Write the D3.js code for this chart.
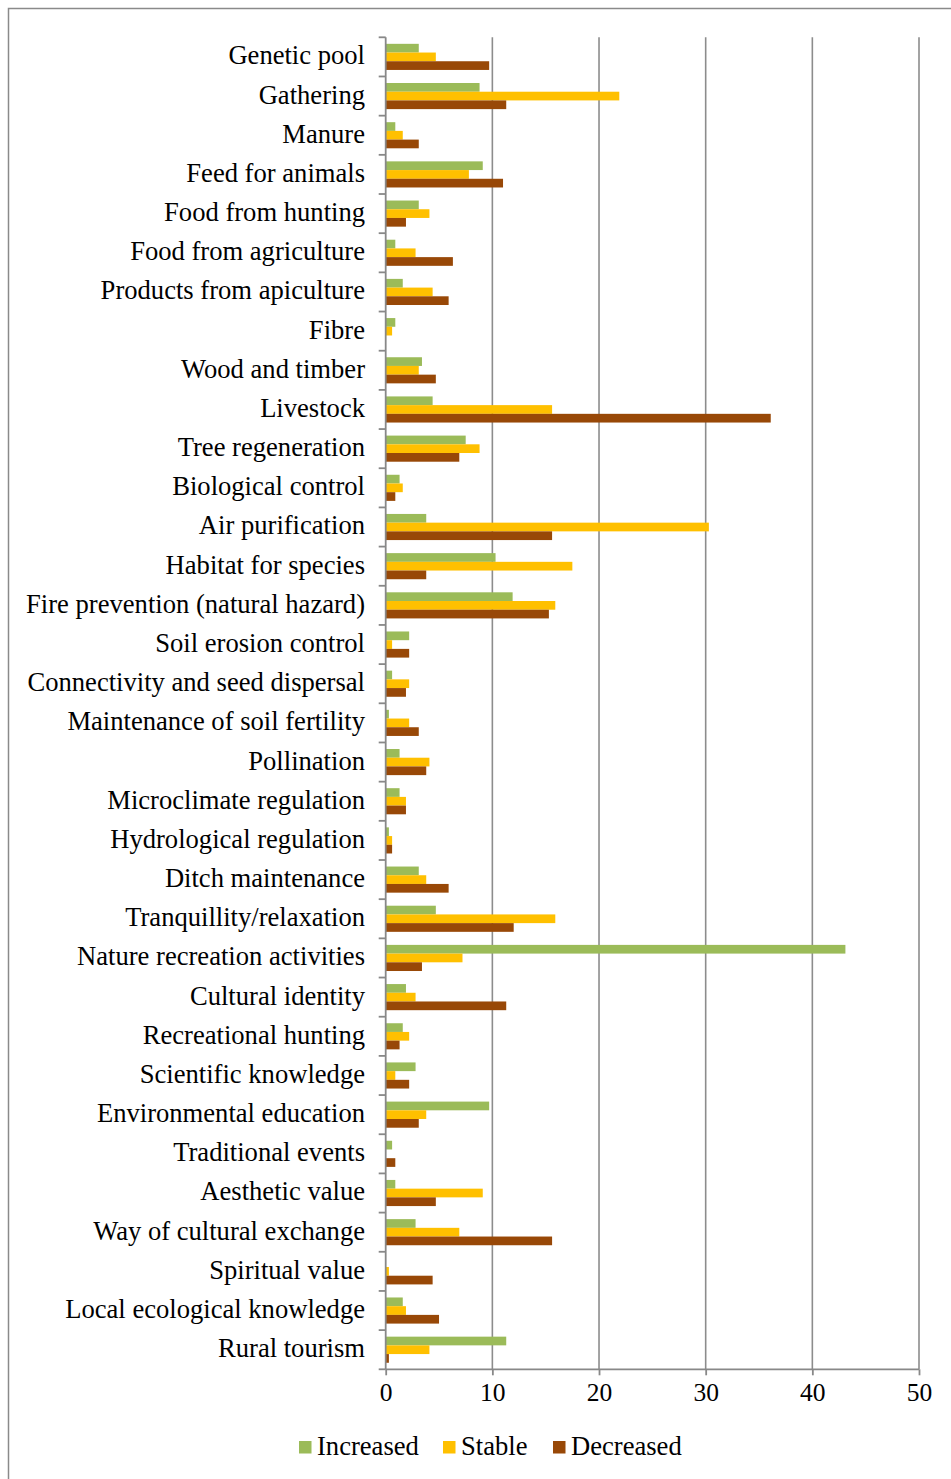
<!DOCTYPE html>
<html>
<head>
<meta charset="utf-8">
<script src="https://cdn.jsdelivr.net/npm/d3@7"></script>
<style>
  html, body { margin: 0; padding: 0; background: #fff; }
  svg { display: block; }
  text { font-family: "Liberation Serif", "Times New Roman", serif; fill: #000; }
</style>
</head>
<body>
<svg id="chart" width="951" height="1479"></svg>
<script>
// Ecosystem services and the share of responses for each trend
const categories = [
  "Genetic pool", "Gathering", "Manure", "Feed for animals", "Food from hunting",
  "Food from agriculture", "Products from apiculture", "Fibre", "Wood and timber",
  "Livestock", "Tree regeneration", "Biological control", "Air purification",
  "Habitat for species", "Fire prevention (natural hazard)", "Soil erosion control",
  "Connectivity and seed dispersal", "Maintenance of soil fertility", "Pollination",
  "Microclimate regulation", "Hydrological regulation", "Ditch maintenance",
  "Tranquillity/relaxation", "Nature recreation activities", "Cultural identity",
  "Recreational hunting", "Scientific knowledge", "Environmental education",
  "Traditional events", "Aesthetic value", "Way of cultural exchange",
  "Spiritual value", "Local ecological knowledge", "Rural tourism"
];

const increased = [
  3.1, 8.8, 0.9, 9.1, 3.1, 0.9, 1.6, 0.9, 3.4, 4.4, 7.5, 1.3, 3.8, 10.3, 11.9,
  2.2, 0.6, 0.3, 1.3, 1.3, 0.3, 3.1, 4.7, 43.1, 1.9, 1.6, 2.8, 9.7, 0.6, 0.9,
  2.8, 0, 1.6, 11.3
];
const stable = [
  4.7, 21.9, 1.6, 7.8, 4.1, 2.8, 4.4, 0.6, 3.1, 15.6, 8.8, 1.6, 30.3, 17.5, 15.9,
  0.6, 2.2, 2.2, 4.1, 1.9, 0.6, 3.8, 15.9, 7.2, 2.8, 2.2, 0.9, 3.8, 0, 9.1,
  6.9, 0.3, 1.9, 4.1
];
const decreased = [
  9.7, 11.3, 3.1, 11.0, 1.9, 6.3, 5.9, 0, 4.7, 36.1, 6.9, 0.9, 15.6, 3.8, 15.3,
  2.2, 1.9, 3.1, 3.8, 1.9, 0.6, 5.9, 12.0, 3.4, 11.3, 1.3, 2.2, 3.1, 0.9, 4.7,
  15.6, 4.4, 5.0, 0.3
];

const seriesNames = ["Increased", "Stable", "Decreased"];
const seriesColors = ["#9BBB59", "#FFC000", "#984807"];
const xTicks = [0, 10, 20, 30, 40, 50];

const seriesValues = [increased, stable, decreased];
const rows = categories.map((c, i) => ({
  category: c,
  values: seriesNames.map((s, k) => ({ key: s, value: seriesValues[k][i] }))
}));

const svg = d3.select("#chart");

// outer chart frame
svg.append("rect")
  .attr("x", 8.5).attr("y", 8.5)
  .attr("width", 1000).attr("height", 1600)
  .attr("fill", "none").attr("stroke", "#8a8a8a").attr("stroke-width", 1.5);

const plot = { left: 385.7, right: 919, top: 37.3, bottom: 1369.3 };

const x = d3.scaleLinear().domain([0, 50]).range([plot.left, plot.right]);
const y = d3.scaleBand().domain(categories).range([plot.top, plot.bottom]).padding(0);
const sub = d3.scaleBand().domain(seriesNames).range([0, y.bandwidth()])
  .paddingInner(0).paddingOuter(0.75);
const color = d3.scaleOrdinal().domain(seriesNames).range(seriesColors);

// vertical gridlines
svg.append("g")
  .selectAll("line")
  .data(xTicks.filter(t => t > 0))
  .join("line")
  .attr("x1", d => x(d)).attr("x2", d => x(d))
  .attr("y1", plot.top).attr("y2", plot.bottom)
  .attr("stroke", "#8c8c8c").attr("stroke-width", 1.6);

// bars
svg.append("g")
  .selectAll("g")
  .data(rows)
  .join("g")
  .attr("transform", d => `translate(0,${y(d.category)})`)
  .selectAll("rect")
  .data(d => d.values)
  .join("rect")
  .attr("x", x(0))
  .attr("y", d => sub(d.key))
  .attr("width", d => x(d.value) - x(0))
  .attr("height", sub.bandwidth())
  .attr("fill", d => color(d.key));

// bottom axis
const xAxis = d3.axisBottom(x).tickValues(xTicks).tickSize(6).tickPadding(8);
const gx = svg.append("g")
  .attr("transform", `translate(0,${plot.bottom})`)
  .call(xAxis);
gx.select(".domain").remove();
gx.append("line")
  .attr("x1", plot.left).attr("x2", plot.right)
  .attr("stroke", "#888").attr("stroke-width", 1.8);
gx.selectAll(".tick line").attr("stroke", "#888").attr("stroke-width", 1.8);
gx.selectAll(".tick text")
  .style("font-family", "'Liberation Serif', 'Times New Roman', serif")
  .style("font-size", "25.5px").attr("fill", "#000");

// left axis with ticks at category boundaries
const gy = svg.append("g");
gy.append("line")
  .attr("x1", plot.left).attr("x2", plot.left)
  .attr("y1", plot.top).attr("y2", plot.bottom)
  .attr("stroke", "#888").attr("stroke-width", 1.8);
const boundaries = categories.map(c => y(c)).concat([plot.bottom]);
gy.selectAll("line.b")
  .data(boundaries)
  .join("line")
  .attr("class", "b")
  .attr("x1", plot.left - 7).attr("x2", plot.left)
  .attr("y1", d => d).attr("y2", d => d)
  .attr("stroke", "#888").attr("stroke-width", 1.8);

// category labels
svg.append("g")
  .selectAll("text")
  .data(categories)
  .join("text")
  .attr("x", 365)
  .attr("y", d => y(d) + y.bandwidth() / 2)
  .attr("dy", "0.28em")
  .attr("text-anchor", "end")
  .style("font-size", "26.6px")
  .text(d => d);

// legend
const legendX = [299, 443, 553];
const legend = svg.append("g")
  .selectAll("g")
  .data(seriesNames)
  .join("g")
  .attr("transform", (d, i) => `translate(${legendX[i]},1441)`);
legend.append("rect")
  .attr("width", 12.5).attr("height", 12.5)
  .attr("fill", d => color(d));
legend.append("text")
  .attr("x", 18).attr("y", 6.5).attr("dy", "0.28em")
  .style("font-size", "26.6px")
  .text(d => d);
</script>
</body>
</html>
